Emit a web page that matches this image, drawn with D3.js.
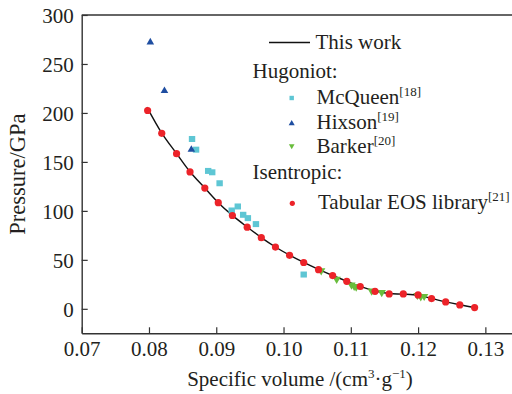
<!DOCTYPE html>
<html>
<head>
<meta charset="utf-8">
<script src="https://cdn.jsdelivr.net/npm/d3@7"></script>
<style>
  html, body { margin: 0; padding: 0; background: #fff; }
  svg text { font-family: "Liberation Serif", "Times New Roman", Tinos, serif; }
</style>
</head>
<body>
<svg id="chart" width="512" height="394"></svg>
<script>
// Isentrope computed in this work (specific volume, pressure)
const workV = [0.0797, 0.0819, 0.0841, 0.0861, 0.0883, 0.0903, 0.0924, 0.0946, 0.0967, 0.0988,
               0.1009, 0.1030, 0.1052, 0.1073, 0.1094, 0.1114, 0.1136, 0.1157, 0.1178, 0.1200,
               0.1220, 0.1241, 0.1262, 0.1284];
const workP = [206, 179.5, 158.6, 140.0, 123.3, 108.4, 95.4, 83.5, 72.7, 63.1,
               54.8, 47.3, 40.2, 34.0, 28.2, 22.9, 18.2, 15.6, 15.0, 13.8,
               10.6, 7.1, 4.1, 1.3];

// Hugoniot data: McQueen [18]
const mcqV = [0.0864, 0.0870, 0.0888, 0.0894, 0.0905, 0.0923, 0.0932, 0.0940, 0.0947, 0.0959, 0.1030];
const mcqP = [173.4, 162.5, 140.8, 139.4, 128.2, 100.4, 104.5, 96.0, 92.6, 86.5, 35.0];

// Hugoniot data: Hixson [19]
const hixV = [0.0802, 0.0823, 0.0863];
const hixP = [272.2, 222.6, 162.5];

// Hugoniot data: Barker [20]
const barV = [0.1056, 0.1079, 0.1101, 0.1105, 0.1108, 0.1131, 0.1146, 0.1199, 0.1204, 0.1209];
const barP = [39.0, 30.3, 24.5, 23.0, 22.3, 18.2, 16.8, 13.8, 12.5, 12.8];

// Isentropic data: Tabular EOS library [21]
const tabV = [0.0798, 0.0819, 0.0841, 0.0861, 0.0883, 0.0903, 0.0924, 0.0946, 0.0967, 0.0988,
              0.1009, 0.1030, 0.1052, 0.1073, 0.1094, 0.1114, 0.1136, 0.1157, 0.1178, 0.1200,
              0.1220, 0.1241, 0.1262, 0.1284];
const tabP = [202.5, 179.2, 158.4, 139.8, 123.3, 108.4, 95.3, 83.4, 72.6, 63.0,
              54.6, 47.3, 40.0, 33.9, 28.1, 22.8, 17.9, 15.2, 15.2, 14.2,
              10.5, 7.0, 4.0, 1.3];

const xTicks = [0.07, 0.08, 0.09, 0.10, 0.11, 0.12, 0.13];
const yTicks = [0, 50, 100, 150, 200, 250, 300];

const colors = { work: "#111", mcq: "#5ec6d4", hix: "#1f4ea1", bar: "#69bd3c", tab: "#ec2329" };

const svg = d3.select("#chart");
const plot = { left: 81.7, right: 519, top: 15, bottom: 333.3 };

const x = d3.scaleLinear().domain([0.07, 0.135]).range([plot.left, plot.right]);
const y = d3.scaleLinear().domain([-25, 300]).range([plot.bottom, plot.top]);

const axisColor = "#333";
const textColor = "#231f20";

// top frame
svg.append("line")
  .attr("x1", plot.left).attr("x2", plot.right)
  .attr("y1", plot.top).attr("y2", plot.top)
  .attr("stroke", axisColor).attr("stroke-width", 1.4);

// bottom axis, ticks pointing inward
const gx = svg.append("g").attr("transform", `translate(0,${plot.bottom})`)
  .call(d3.axisBottom(x).tickValues(xTicks).tickSizeInner(-6).tickSizeOuter(0)
        .tickPadding(8).tickFormat(d3.format(".2f")));
// left axis, ticks pointing inward
const gy = svg.append("g").attr("transform", `translate(${plot.left},0)`)
  .call(d3.axisLeft(y).tickValues(yTicks).tickSizeInner(-6).tickSizeOuter(0)
        .tickPadding(8).tickFormat(d3.format("d")));

[gx, gy].forEach(g => {
  g.select(".domain").attr("stroke", axisColor).attr("stroke-width", 1.4);
  g.selectAll(".tick line").attr("stroke", axisColor).attr("stroke-width", 1.2);
  g.selectAll(".tick text").attr("fill", textColor).attr("font-size", 21);
});
gy.selectAll(".tick text").attr("dy", "0.36em");

// axis titles
svg.append("text")
  .attr("transform", `translate(25,${(plot.top + plot.bottom) / 2}) rotate(-90)`)
  .attr("text-anchor", "middle").attr("font-size", 22.5).attr("fill", textColor)
  .text("Pressure/GPa");

const xt = svg.append("text")
  .attr("x", 300).attr("y", 386)
  .attr("text-anchor", "middle").attr("font-size", 21).attr("fill", textColor);
xt.append("tspan").text("Specific volume /(cm");
xt.append("tspan").attr("font-size", 13).attr("dy", -8).text("3");
xt.append("tspan").attr("dy", 8).text("·g");
xt.append("tspan").attr("font-size", 13).attr("dy", -8).text("−1");
xt.append("tspan").attr("dy", 8).text(")");

// marker shapes
const tri = (s) => d3.symbol().type(d3.symbolTriangle).size(s)();

// "This work" curve
const workData = workV.map((v, i) => [v, workP[i]]);
svg.append("path")
  .datum(workData)
  .attr("fill", "none").attr("stroke", colors.work).attr("stroke-width", 1.4)
  .attr("d", d3.line().x(d => x(d[0])).y(d => y(d[1])).curve(d3.curveCatmullRom));

// McQueen squares
svg.append("g").selectAll("rect")
  .data(mcqV.map((v, i) => [v, mcqP[i]]))
  .join("rect")
  .attr("x", d => x(d[0]) - 3.2).attr("y", d => y(d[1]) - 3)
  .attr("width", 6.4).attr("height", 6)
  .attr("fill", colors.mcq);

// Hixson triangles
svg.append("g").selectAll("path")
  .data(hixV.map((v, i) => [v, hixP[i]]))
  .join("path")
  .attr("d", tri(25))
  .attr("transform", d => `translate(${x(d[0])},${y(d[1])})`)
  .attr("fill", colors.hix);

// Barker inverted triangles
svg.append("g").selectAll("path")
  .data(barV.map((v, i) => [v, barP[i]]))
  .join("path")
  .attr("d", tri(30))
  .attr("transform", d => `translate(${x(d[0])},${y(d[1])}) rotate(180)`)
  .attr("fill", colors.bar);

// Tabular EOS circles
svg.append("g").selectAll("circle")
  .data(tabV.map((v, i) => [v, tabP[i]]))
  .join("circle")
  .attr("cx", d => x(d[0])).attr("cy", d => y(d[1]))
  .attr("r", 3.6)
  .attr("fill", colors.tab);

// legend
const lg = svg.append("g").attr("font-size", 21).attr("fill", textColor);
function entry(tx, ty, label, ref) {
  const t = lg.append("text").attr("x", tx).attr("y", ty).attr("fill", textColor);
  t.append("tspan").text(label);
  if (ref) t.append("tspan").attr("font-size", 13).attr("dy", -8).text(ref);
}
lg.append("line").attr("x1", 269).attr("x2", 310).attr("y1", 42.5).attr("y2", 42.5)
  .attr("stroke", colors.work).attr("stroke-width", 1.4);
entry(315.5, 48.5, "This work");
entry(252.5, 78, "Hugoniot:");
lg.append("rect").attr("x", 289.5).attr("y", 95.8).attr("width", 4.4).attr("height", 4.4)
  .attr("fill", colors.mcq);
entry(316.5, 103.5, "McQueen", "[18]");
lg.append("path").attr("d", tri(16)).attr("transform", "translate(291.7,123.5)")
  .attr("fill", colors.hix);
entry(316.5, 128.5, "Hixson", "[19]");
lg.append("path").attr("d", tri(14)).attr("transform", "translate(291.7,146) rotate(180)")
  .attr("fill", colors.bar);
entry(316.5, 153, "Barker", "[20]");
entry(252.5, 178.5, "Isentropic:");
lg.append("circle").attr("cx", 292.3).attr("cy", 203.3).attr("r", 2.6).attr("fill", colors.tab);
entry(318, 208.5, "Tabular EOS library", "[21]");
</script>
</body>
</html>
